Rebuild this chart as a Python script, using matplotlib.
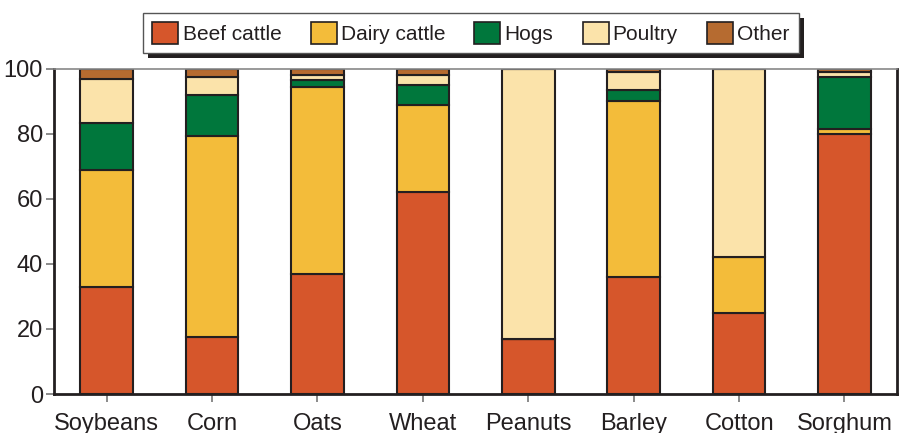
import matplotlib.pyplot as plt
import matplotlib.patches as mpatches
import numpy as np

plt.rcParams['font.family'] = ['Liberation Sans', 'DejaVu Sans']

# Culturas e participação de cada tipo de rebanho (%)
crops = ["Soybeans", "Corn", "Oats", "Wheat", "Peanuts", "Barley", "Cotton", "Sorghum"]
beef = [33, 17.5, 37, 62, 17, 36, 25, 80]
dairy = [36, 62, 57.5, 27, 0, 54, 17, 1.5]
hogs = [14.5, 12.5, 2, 6, 0, 3.5, 0, 16]
poultry = [13.5, 5.5, 1.5, 3, 83, 5.5, 58, 1.5]
other = [3, 2.5, 2, 2, 0, 1, 0, 1]

series = ["Beef cattle", "Dairy cattle", "Hogs", "Poultry", "Other"]
colors = ["#d6562b", "#f3bc3a", "#00773c", "#fbe3aa", "#b66b30"]
dark = "#231f20"

fig = plt.figure(figsize=(8.99, 4.33), dpi=100)
ax = fig.add_axes([0.060, 0.090, 0.938, 0.751])

x = np.arange(len(crops))
bottom = np.zeros(len(crops))
for vals, name, c in zip([beef, dairy, hogs, poultry, other], series, colors):
    vals = np.array(vals, dtype=float)
    ax.bar(x, vals, 0.5, bottom=bottom, color=c, edgecolor=dark, linewidth=1.5, label=name)
    bottom += vals

ax.set_xlim(-0.5, 7.5)
ax.set_ylim(0, 100)
ax.set_yticks([0, 20, 40, 60, 80, 100])
ax.set_xticks(x)
ax.set_xticklabels(crops)
ax.tick_params(axis='both', labelsize=17, colors="#777777", labelcolor=dark, length=6, width=1.2)
ax.tick_params(axis='x', pad=8)
ax.tick_params(axis='y', pad=2)

for s in ['left', 'bottom', 'right']:
    ax.spines[s].set_color(dark)
    ax.spines[s].set_linewidth(2)
ax.spines['top'].set_color("#888888")
ax.spines['top'].set_linewidth(1.2)

# Legenda com sombra preta
handles = [mpatches.Patch(facecolor=c, edgecolor=dark, linewidth=1.2) for c in colors]
leg = fig.legend(handles, series, loc='center', bbox_to_anchor=(0.524, 0.924), ncol=5,
                 fontsize=15, frameon=True, fancybox=False, edgecolor="#555555",
                 facecolor="white", framealpha=1,
                 handlelength=1.25, handleheight=1.25, handletextpad=0.2,
                 columnspacing=1.4, borderpad=0.45, labelspacing=0.2)
leg.get_frame().set_linewidth(1.0)
for t in leg.get_texts():
    t.set_color(dark)

fig.canvas.draw()
bb = leg.get_window_extent()
shadow = mpatches.Rectangle((bb.x0 + 5, bb.y0 - 5), bb.width, bb.height,
                            transform=None, facecolor=dark, edgecolor='none', zorder=leg.get_zorder() - 1)
fig.patches.append(shadow)

fig.savefig("out.png", dpi=100)
